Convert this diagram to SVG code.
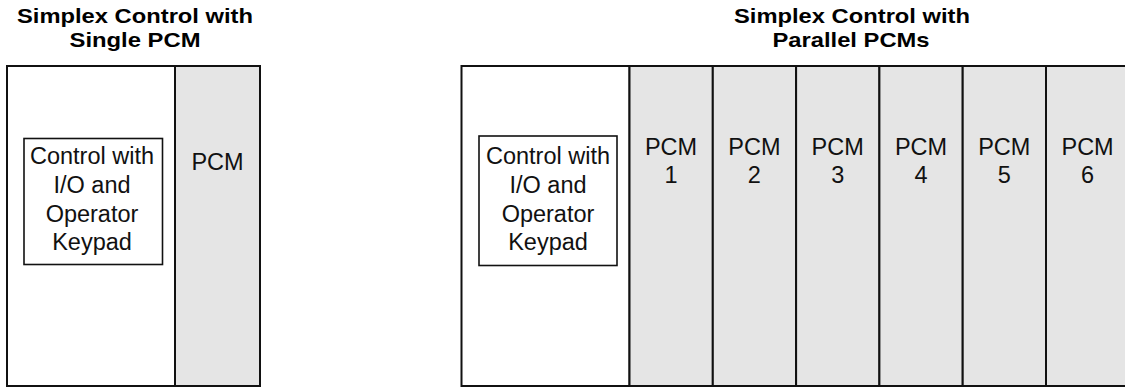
<svg xmlns="http://www.w3.org/2000/svg" width="1125" height="387" viewBox="0 0 1125 387">
<style>
.title{font-family:"Liberation Sans",Arial,sans-serif;font-weight:bold;font-size:20.5px;fill:#000;text-anchor:middle}
.lbl{font-family:"Liberation Sans",Arial,sans-serif;font-size:23.5px;fill:#111;text-anchor:middle}
.panel{fill:#fff;stroke:#111;stroke-width:2}
.pcm{fill:#e5e5e5;stroke:#111;stroke-width:2}
.ctrl{fill:#fff;stroke:#111;stroke-width:1.6}
</style>
<rect width="1125" height="387" fill="#fff"/>
<g id="title-left">
<text class="title" x="135" y="23" textLength="236" lengthAdjust="spacingAndGlyphs">Simplex Control with</text>
<text class="title" x="135" y="47" textLength="131" lengthAdjust="spacingAndGlyphs">Single PCM</text>
</g>
<g id="title-right">
<text class="title" x="852" y="23" textLength="236" lengthAdjust="spacingAndGlyphs">Simplex Control with</text>
<text class="title" x="851" y="47" textLength="157" lengthAdjust="spacingAndGlyphs">Parallel PCMs</text>
</g>
<g id="left-panel">
<rect class="panel" x="7" y="66" width="168" height="320"/>
</g>
<g id="left-pcm">
<rect class="pcm" x="175" y="66" width="85" height="320"/>
<text class="lbl" x="217.5" y="170">PCM</text>
</g>
<g id="left-control">
<rect class="ctrl" x="24" y="138.5" width="138.5" height="126"/>
<text class="lbl" x="92" y="164">Control with</text>
<text class="lbl" x="92" y="193">I/O and</text>
<text class="lbl" x="92" y="221.5">Operator</text>
<text class="lbl" x="92" y="250">Keypad</text>
</g>
<g id="right-panel">
<rect class="panel" x="461.5" y="66" width="168" height="320"/>
</g>
<g id="right-control">
<rect class="ctrl" x="479" y="136" width="138" height="129.5"/>
<text class="lbl" x="548" y="164">Control with</text>
<text class="lbl" x="548" y="193">I/O and</text>
<text class="lbl" x="548" y="221.5">Operator</text>
<text class="lbl" x="548" y="250">Keypad</text>
</g>
<g id="pcm1">
<rect class="pcm" x="629.5" y="66" width="83.3" height="320"/>
<text class="lbl" x="671" y="155">PCM</text>
<text class="lbl" x="671" y="183">1</text>
</g>
<g id="pcm2">
<rect class="pcm" x="712.8" y="66" width="83.3" height="320"/>
<text class="lbl" x="754.4" y="155">PCM</text>
<text class="lbl" x="754.4" y="183">2</text>
</g>
<g id="pcm3">
<rect class="pcm" x="796.1" y="66" width="83.3" height="320"/>
<text class="lbl" x="837.7" y="155">PCM</text>
<text class="lbl" x="837.7" y="183">3</text>
</g>
<g id="pcm4">
<rect class="pcm" x="879.4" y="66" width="83.3" height="320"/>
<text class="lbl" x="921" y="155">PCM</text>
<text class="lbl" x="921" y="183">4</text>
</g>
<g id="pcm5">
<rect class="pcm" x="962.7" y="66" width="83.3" height="320"/>
<text class="lbl" x="1004.3" y="155">PCM</text>
<text class="lbl" x="1004.3" y="183">5</text>
</g>
<g id="pcm6">
<rect class="pcm" x="1046" y="66" width="90" height="320"/>
<text class="lbl" x="1087.6" y="155">PCM</text>
<text class="lbl" x="1087.6" y="183">6</text>
</g>
<g id="connectors"></g>
</svg>
